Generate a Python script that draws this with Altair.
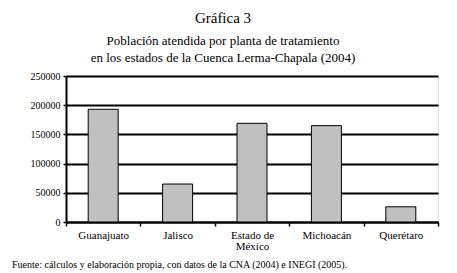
import altair as alt
import pandas as pd

estados = ["Guanajuato", "Jalisco", "Estado de México", "Michoacán", "Querétaro"]
poblacion = [193000, 65000, 169000, 165000, 26000]
y_ticks = [0, 50000, 100000, 150000, 200000, 250000]
fuente = ["Fuente: cálculos y elaboración propia, con datos de la CNA (2004) e INEGI (2005)."]

df = pd.DataFrame({"estado": estados, "poblacion": poblacion})
df_src = pd.DataFrame({"t": fuente})

FONT = "Liberation Serif"

bars = alt.Chart(df).mark_bar(
    size=30, fill="#c0c0c0", stroke="black", strokeWidth=1
).encode(
    x=alt.X("estado:N", sort=estados, title=None,
            scale=alt.Scale(paddingInner=0, paddingOuter=0),
            axis=alt.Axis(
                labelAngle=0, tickBand="extent", grid=False,
                domainColor="black", domainWidth=2,
                tickColor="black", tickSize=4, tickWidth=1.5,
                labelFont=FONT, labelFontSize=11, labelColor="black",
                labelPadding=3, labelLineHeight=11,
                labelExpr="datum.label == 'Estado de México' ? ['Estado de', 'México'] : datum.label",
            )),
    y=alt.Y("poblacion:Q", title=None,
            scale=alt.Scale(domain=[0, 250000], nice=False),
            axis=alt.Axis(
                values=y_ticks, format="d", grid=True,
                gridColor="black", gridWidth=2, gridOpacity=1,
                domainColor="black", domainWidth=2,
                tickColor="black", tickSize=3, tickWidth=1.5,
                labelFont=FONT, labelFontSize=10, labelColor="black",
                labelPadding=3,
            )),
)

footer = alt.Chart(df_src).mark_text(
    align="left", baseline="middle", font=FONT, fontSize=10, color="black"
).encode(
    text="t:N",
    x=alt.value(-54),
    y=alt.value(189),
)

chart = alt.layer(bars, footer).properties(
    width=372,
    height=146,
    padding={"left": 66, "top": 76, "right": 19, "bottom": 51},
    autosize=alt.AutoSizeParams(type="none"),
    title=alt.TitleParams(
        text="Gráfica 3",
        subtitle=["Población atendida por planta de tratamiento",
                  "en los estados de la Cuenca Lerma-Chapala (2004)"],
        font=FONT, fontSize=15, fontWeight="normal", color="black",
        subtitleFont=FONT, subtitleFontSize=13, subtitleColor="black",
        subtitleLineHeight=17, subtitlePadding=9,
        anchor="middle", frame="group", dx=-29, offset=6,
    ),
).configure_view(stroke="black", strokeWidth=2).configure(background="white")

chart.save("out.html", embed_options={"renderer": "svg", "actions": False})
